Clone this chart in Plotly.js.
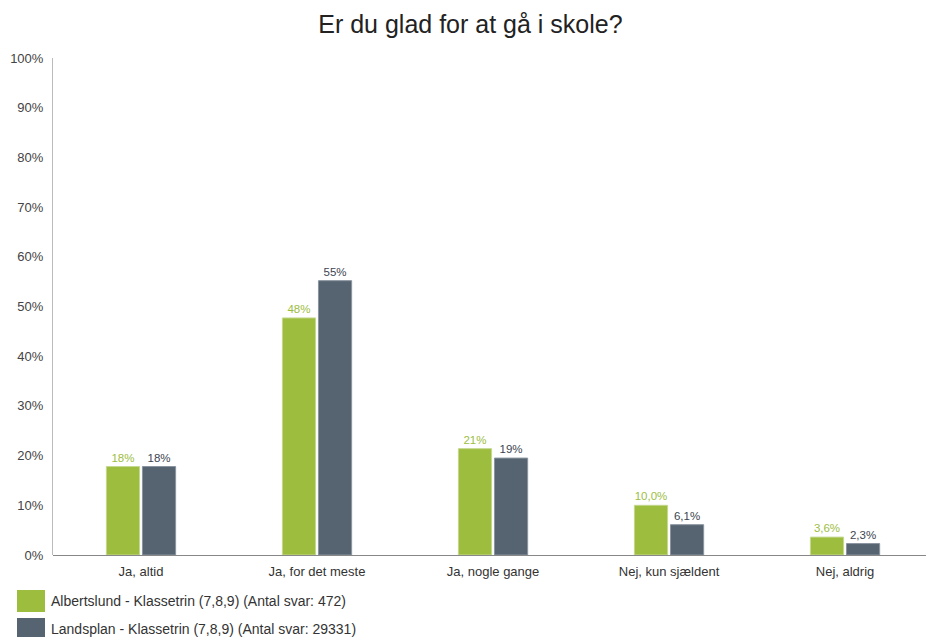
<!DOCTYPE html>
<html>
<head>
<meta charset="utf-8">
<script src="https://cdn.plot.ly/plotly-3.0.1.min.js"></script>
<style>html,body{margin:0;padding:0;background:#fff;}#chart{width:926px;height:637px;}</style>
</head>
<body>
<div id="chart"></div>
<script>
const categories = ["Ja, altid", "Ja, for det meste", "Ja, nogle gange", "Nej, kun sjældent", "Nej, aldrig"];
const seriesNames = ["Albertslund - Klassetrin (7,8,9) (Antal svar: 472)", "Landsplan - Klassetrin (7,8,9) (Antal svar: 29331)"];
const albertslund = [17.8, 47.7, 21.4, 10.0, 3.6];
const landsplan = [17.8, 55.2, 19.5, 6.1, 2.3];
const albertslundLabels = ["18%", "48%", "21%", "10,0%", "3,6%"];
const landsplanLabels = ["18%", "55%", "19%", "6,1%", "2,3%"];
const yTickVals = [0, 10, 20, 30, 40, 50, 60, 70, 80, 90, 100];
const yTickText = ["0%", "10%", "20%", "30%", "40%", "50%", "60%", "70%", "80%", "90%", "100%"];

const green = "#9dbd3f";
const slate = "#566472";
const font = "Liberation Sans, Arial, sans-serif";

const traces = [
  {type: "bar", name: seriesNames[0], x: categories, y: albertslund, text: albertslundLabels,
   textposition: "outside", cliponaxis: false, textfont: {size: 11.5, color: green, family: font},
   marker: {color: green, line: {color: "#c5d890", width: 1}}, hoverinfo: "x+y"},
  {type: "bar", name: seriesNames[1], x: categories, y: landsplan, text: landsplanLabels,
   textposition: "outside", cliponaxis: false, textfont: {size: 11.5, color: "#3d4550", family: font},
   marker: {color: slate, line: {color: "#8a949e", width: 1}}, hoverinfo: "x+y"}
];

const legendColors = [green, slate];
const legendTops = [590, 618];
const shapes = [];
const annotations = [];
seriesNames.forEach((n, i) => {
  const top = legendTops[i];
  shapes.push({type: "rect", xref: "paper", yref: "paper", xsizemode: "pixel", ysizemode: "pixel",
    xanchor: 0, yanchor: 0,
    x0: (17 - 53), x1: (45 - 53),
    y0: -(top + 22 - 555), y1: -(top - 555),
    fillcolor: legendColors[i], line: {width: 0}});
  annotations.push({xref: "paper", yref: "paper", x: 0, y: 0, xshift: (49 - 53), yshift: -(top + 10.5 - 555),
    xanchor: "left", yanchor: "middle", showarrow: false, text: n,
    font: {size: 14, color: "#333", family: font}});
});

const layout = {
  width: 926, height: 637,
  margin: {l: 53, r: 0, t: 58, b: 82},
  paper_bgcolor: "#fff", plot_bgcolor: "#fff",
  font: {family: font, color: "#333"},
  title: {text: "Er du glad for at gå i skole?", x: 0.508, xanchor: "center", y: 0.962, yanchor: "middle",
          font: {size: 25, color: "#222", family: font}},
  showlegend: false,
  barmode: "group", bargap: 0.59, bargroupgap: 0.08,
  xaxis: {type: "category", range: [-0.5, 4.46], showgrid: false, zeroline: false,
          showline: false, ticks: "outside", ticklen: 4, tickcolor: "rgba(0,0,0,0)",
          tickfont: {size: 13, color: "#333", family: font}, fixedrange: true},
  yaxis: {range: [0, 100], tickvals: yTickVals, ticktext: yTickText, showgrid: false,
          zeroline: true, zerolinecolor: "#888", zerolinewidth: 1,
          showline: true, linecolor: "#bbb", linewidth: 1,
          ticks: "outside", ticklen: 6, tickcolor: "rgba(0,0,0,0)",
          tickfont: {size: 13, color: "#444", family: font}, fixedrange: true},
  shapes: shapes,
  annotations: annotations
};

Plotly.newPlot("chart", traces, layout, {displayModeBar: false, staticPlot: true});
</script>
</body>
</html>
